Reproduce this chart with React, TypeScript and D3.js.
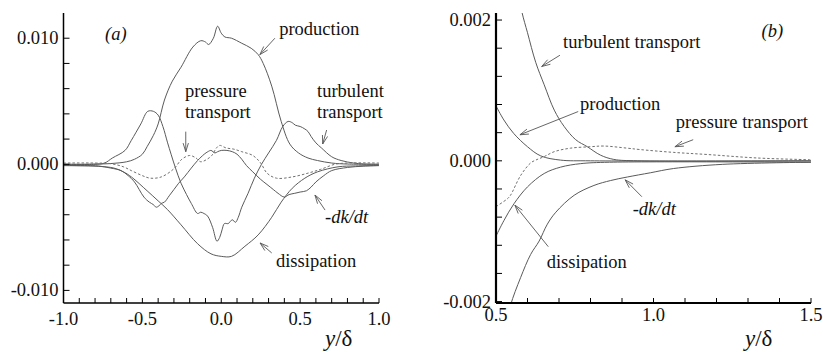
import React from "react";
import * as d3 from "d3";

type Pt = [number, number];

// ---- panel (a): budget terms vs y/delta ----
const productionA: Pt[] = [
  [-1.0, 0], [-0.8, 0.00002], [-0.7, 0.00006], [-0.6, 0.0002], [-0.55, 0.0004],
  [-0.5, 0.0008], [-0.47, 0.0014], [-0.43, 0.0023], [-0.4, 0.0032], [-0.36, 0.0051],
  [-0.31, 0.0066], [-0.255, 0.0077], [-0.18, 0.0093], [-0.13, 0.0098], [-0.1, 0.0097],
  [-0.08, 0.0095], [-0.05, 0.01], [-0.023, 0.01095], [0.0, 0.0104], [0.023, 0.0101],
  [0.065, 0.01], [0.13, 0.0096], [0.19, 0.0092], [0.234, 0.0087], [0.266, 0.008],
  [0.32, 0.0062], [0.38, 0.0034], [0.435, 0.0016], [0.49, 0.0009], [0.55, 0.0005],
  [0.61, 0.0003], [0.7, 0.0001], [0.8, 0.00002], [1.0, 0],
];
const turbulentA: Pt[] = [
  [-1, 0], [-0.8, 0], [-0.74, 0.0001], [-0.69, 0.0005], [-0.61, 0.0011], [-0.57, 0.0019],
  [-0.51, 0.0032], [-0.466, 0.0042], [-0.43, 0.0042], [-0.4, 0.0039], [-0.37, 0.003],
  [-0.34, 0.0017], [-0.318, 0.0008], [-0.29, -0.0003], [-0.255, -0.0015], [-0.22, -0.0024],
  [-0.19, -0.0031], [-0.15, -0.0039], [-0.13, -0.0038], [-0.11, -0.0039], [-0.087, -0.0041],
  [-0.055, -0.005], [-0.027, -0.0061], [-0.01, -0.0058], [0.005, -0.0052], [0.02, -0.0047],
  [0.044, -0.0047], [0.07, -0.0044], [0.09, -0.0046], [0.108, -0.0042], [0.13, -0.0034],
  [0.17, -0.0023], [0.21, -0.0011], [0.255, 0.0], [0.3, 0.0009], [0.35, 0.0019],
  [0.39, 0.003], [0.424, 0.0034], [0.45, 0.0033], [0.47, 0.0031], [0.5, 0.003],
  [0.53, 0.0028], [0.55, 0.0026], [0.57, 0.0022], [0.6, 0.0017], [0.635, 0.0013],
  [0.7, 0.0006], [0.76, 0.0003], [0.84, 0.0001], [0.9, 0.00003], [1.0, 0],
];
const dissipationA: Pt[] = [
  [-1, -0.0001], [-0.9, -0.00012], [-0.78, -0.00016], [-0.68, -0.0003], [-0.62, -0.0006],
  [-0.57, -0.001], [-0.47, -0.0021], [-0.4, -0.0029], [-0.34, -0.0036], [-0.255, -0.0048],
  [-0.15, -0.0063], [-0.065, -0.0071], [0.0, -0.0073], [0.065, -0.0073], [0.15, -0.0065],
  [0.234, -0.0056], [0.32, -0.0042], [0.38, -0.003], [0.45, -0.0019], [0.53, -0.0011],
  [0.61, -0.0006], [0.74, -0.0002], [0.85, -0.00013], [1.0, -0.0001],
];
const dkdtA: Pt[] = [
  [-1, -0.0001], [-0.85, -0.0001], [-0.78, -0.00013], [-0.7, -0.0003], [-0.635, -0.0005],
  [-0.59, -0.0009], [-0.55, -0.0014], [-0.49, -0.0026], [-0.456, -0.003], [-0.43, -0.0032],
  [-0.413, -0.0034], [-0.395, -0.0033], [-0.38, -0.0031], [-0.36, -0.003], [-0.33, -0.0025],
  [-0.3, -0.002], [-0.27, -0.0015], [-0.234, -0.001], [-0.19, -0.0003], [-0.15, 0.0003],
  [-0.108, 0.0008], [-0.085, 0.001], [-0.065, 0.0011], [-0.04, 0.0009], [-0.023, 0.001],
  [0.0, 0.0011], [0.036, 0.0011], [0.07, 0.001], [0.1, 0.0008], [0.13, 0.0004],
  [0.16, -0.0001], [0.2, -0.0006], [0.25, -0.0012], [0.29, -0.0016], [0.33, -0.002],
  [0.36, -0.0023], [0.4, -0.0026], [0.43, -0.0024], [0.466, -0.0023], [0.5, -0.0022],
  [0.54, -0.0021], [0.57, -0.0018], [0.6, -0.0014], [0.65, -0.0009], [0.7, -0.0005],
  [0.8, -0.00025], [0.9, -0.00015], [1.0, -0.0001],
];
const pressureA: Pt[] = [
  [-1.0, 0.0001], [-0.8, 0.0001], [-0.7, 0.00005], [-0.62, -0.0002], [-0.57, -0.0005],
  [-0.5, -0.0009], [-0.45, -0.0011], [-0.38, -0.001], [-0.3, -0.00035], [-0.25, 0.0004],
  [-0.2, 0.0007], [-0.16, 0.0005], [-0.13, 0.0002], [-0.09, 0.0004], [-0.06, 0.0007],
  [-0.03, 0.0013], [-0.01, 0.0015], [0.03, 0.0013], [0.08, 0.0012], [0.13, 0.001],
  [0.2, 0.0007], [0.25, 0.0001], [0.29, -0.0007], [0.35, -0.0011], [0.45, -0.001],
  [0.55, -0.0007], [0.63, -0.0004], [0.72, 0.0], [0.8, 0.0001], [1.0, 0.0001],
];

// ---- panel (b): outer edge ----
const turbulentB: Pt[] = [
  [0.57, 0.0024], [0.583, 0.0021], [0.6, 0.00182], [0.626, 0.0014], [0.653, 0.00108],
  [0.685, 0.00072], [0.716, 0.00049], [0.753, 0.0003], [0.79, 0.0002], [0.832, 0.00008],
  [0.874, 0.00002], [0.95, 0], [1.5, 0],
];
const productionB: Pt[] = [
  [0.5, 0.00078], [0.525, 0.00058], [0.556, 0.00039], [0.6, 0.0002], [0.642, 0.00007],
  [0.705, 0.00001], [0.8, 0], [1.5, 0],
];
const dissipationB: Pt[] = [
  [0.5, -0.00107], [0.525, -0.00085], [0.557, -0.00061], [0.6, -0.00037], [0.653, -0.00018],
  [0.705, -0.00009], [0.769, -0.00004], [0.86, -0.00002], [1.5, -0.00002],
];
const pressureB: Pt[] = [
  [0.5, -0.00065], [0.536, -0.00054], [0.546, -0.00049], [0.578, -0.00021], [0.61, -0.00003],
  [0.626, 0.00001], [0.653, 0.00006], [0.685, 0.00013], [0.737, 0.00018], [0.8, 0.0002],
  [0.842, 0.00021], [0.916, 0.00018], [0.957, 0.00016], [1.063, 0.00012], [1.17, 0.00009],
  [1.33, 0.00004], [1.5, 0.000015],
];
const dkdtB: Pt[] = [
  [0.54, -0.0022], [0.547, -0.00204], [0.578, -0.00166], [0.61, -0.00133], [0.637, -0.00114],
  [0.663, -0.0009], [0.69, -0.00073], [0.748, -0.00049], [0.811, -0.00035], [0.864, -0.00028],
  [0.917, -0.00023], [0.99, -0.00017], [1.063, -0.00011], [1.22, -0.00005], [1.5, -0.00002],
];

// annotations: label lines, label anchor, arrow tail, arrow tip (data units)
type Note = { lines: string[]; italic?: boolean; at: Pt; from?: Pt; to?: Pt };
const notesA: Note[] = [
  { lines: ["(a)"], italic: true, at: [-0.737, 0.00986] },
  { lines: ["production"], at: [0.367, 0.01025], from: [0.34, 0.01], to: [0.245, 0.0087] },
  { lines: ["pressure", "transport"], at: [-0.23, 0.0053], from: [-0.225, 0.00259], to: [-0.225, 0.001] },
  { lines: ["turbulent", "transport"], at: [0.607, 0.0053], from: [0.668, 0.00272], to: [0.643, 0.00161] },
  { lines: ["-dk/dt"], italic: true, at: [0.658, -0.00466], from: [0.658, -0.00363], to: [0.594, -0.00244] },
  { lines: ["dissipation"], at: [0.347, -0.00814], from: [0.32, -0.00703], to: [0.246, -0.00624] },
];
const notesB: Note[] = [
  { lines: ["(b)"], italic: true, at: [1.343, 0.00176] },
  { lines: ["turbulent transport"], at: [0.713, 0.0016], from: [0.703, 0.0015], to: [0.645, 0.00134] },
  { lines: ["production"], at: [0.767, 0.00072], from: [0.761, 0.0007], to: [0.576, 0.00037] },
  { lines: ["pressure transport"], at: [1.071, 0.00047], from: [1.126, 0.0003], to: [1.068, 0.0002] },
  { lines: ["-dk/dt"], italic: true, at: [0.934, -0.00077], from: [0.963, -0.00051], to: [0.91, -0.00027] },
  { lines: ["dissipation"], at: [0.661, -0.00152], from: [0.666, -0.00122], to: [0.56, -0.00063] },
];

const xTicksA = d3.range(-10, 11).map((d) => d / 10);
const xLabelsA = [-1, -0.5, 0, 0.5, 1];
const yTicksA = d3.range(-10, 11, 2).map((d) => d / 1000);
const yLabelsA = [-0.01, 0, 0.01];
const xTicksB = d3.range(5, 16).map((d) => d / 10);
const xLabelsB = [0.5, 1.0, 1.5];
const yTicksB = d3.range(-5, 6).map((d) => d * 0.0004);
const yLabelsB = [-0.002, 0, 0.002];

const FONT = "'Liberation Serif', 'DejaVu Serif', serif";
const CURVE = "#5a5a5a";

type PanelProps = {
  id: string;
  xDomain: [number, number];
  yDomain: [number, number];
  xRange: [number, number];
  yRange: [number, number];
  solid: Pt[][];
  dashed: Pt[];
  notes: Note[];
  xTicks: number[];
  xLabels: number[];
  yTicks: number[];
  yLabels: number[];
  xLabelDy: number;
  axisWidth: number;
  labelX: number;
};

const Arrow = ({ x1, y1, x2, y2 }: { x1: number; y1: number; x2: number; y2: number }) => {
  const a = Math.atan2(y1 - y2, x1 - x2);
  const len = 9;
  const spread = 0.3;
  const h1: Pt = [x2 + len * Math.cos(a + spread), y2 + len * Math.sin(a + spread)];
  const h2: Pt = [x2 + len * Math.cos(a - spread), y2 + len * Math.sin(a - spread)];
  return (
    <g stroke="#555" strokeWidth={0.9} fill="none">
      <line x1={x1} y1={y1} x2={x2} y2={y2} />
      <polyline points={`${h1[0]},${h1[1]} ${x2},${y2} ${h2[0]},${h2[1]}`} />
    </g>
  );
};

const hyphen = (s: string) => s.replace("\u2212", "-");

const Panel = (p: PanelProps) => {
  const x = d3.scaleLinear().domain(p.xDomain).range(p.xRange);
  const y = d3.scaleLinear().domain(p.yDomain).range(p.yRange);
  const line = d3
    .line<Pt>()
    .x((d) => x(d[0]))
    .y((d) => y(d[1]))
    .curve(d3.curveCatmullRom.alpha(0.5));
  const fmtX = d3.format(".1f");
  const fmtY = d3.format(".3f");
  const [x0, x1] = p.xRange;
  const [yb, yt] = p.yRange;
  const txt = { fontFamily: FONT, fontSize: "18.5px", fill: "#111" };
  return (
    <g>
      <defs>
        <clipPath id={p.id}>
          <rect x={x0} y={yt} width={x1 - x0} height={yb - yt} />
        </clipPath>
      </defs>
      <g clipPath={`url(#${p.id})`} fill="none">
        {p.solid.map((s, i) => (
          <path key={i} d={line(s) || ""} stroke={CURVE} strokeWidth={1} />
        ))}
        <path d={line(p.dashed) || ""} stroke="#707070" strokeWidth={1} strokeDasharray="2.5,2" />
      </g>
      {/* axes */}
      <g stroke="#000" strokeWidth={p.axisWidth} fill="none">
        <line x1={x0} y1={yt} x2={x0} y2={yb} />
        <line x1={x0} y1={yb} x2={x1} y2={yb} />
      </g>
      <g stroke="#000" strokeWidth={1}>
        {p.yTicks.map((t) => (
          <line key={t} x1={x0} x2={x0 + 6} y1={y(t)} y2={y(t)} />
        ))}
        {p.xTicks.map((t) => (
          <line key={t} x1={x(t)} x2={x(t)} y1={yb} y2={yb - 5} />
        ))}
      </g>
      {p.yLabels.map((t) => (
        <text key={t} style={txt} x={x0 - 5} y={y(t) + 6} textAnchor="end">
          {hyphen(fmtY(t))}
        </text>
      ))}
      {p.xLabels.map((t) => (
        <text key={t} style={txt} x={x(t)} y={yb + p.xLabelDy} textAnchor="middle">
          {hyphen(fmtX(t))}
        </text>
      ))}
      <text x={p.labelX} y={346} style={{ ...txt, fontSize: "23px" }}>
        <tspan style={{ fontStyle: "italic" }}>y</tspan>/δ
      </text>
      {p.notes.map((n, i) => (
        <g key={i}>
          {n.from && n.to && (
            <Arrow x1={x(n.from[0])} y1={y(n.from[1])} x2={x(n.to[0])} y2={y(n.to[1])} />
          )}
          <text
            style={{ ...txt, fontStyle: n.italic ? "italic" : "normal" }}
            x={x(n.at[0])}
            y={y(n.at[1])}
          >
            {n.lines.map((l, j) => (
              <tspan key={j} x={x(n.at[0])} dy={j === 0 ? 0 : 21}>
                {l}
              </tspan>
            ))}
          </text>
        </g>
      ))}
    </g>
  );
};

export default function App() {
  return (
    <svg
      width={823}
      height={352}
      style={{ position: "absolute", left: 0, top: 0, background: "#fff" }}
    >
      <Panel
        id="clipA"
        xDomain={[-1, 1]}
        yDomain={[-0.011, 0.012]}
        xRange={[63.5, 379]}
        yRange={[303, 13]}
        solid={[productionA, turbulentA, dissipationA, dkdtA]}
        dashed={pressureA}
        notes={notesA}
        xTicks={xTicksA}
        xLabels={xLabelsA}
        yTicks={yTicksA}
        yLabels={yLabelsA}
        xLabelDy={22}
        axisWidth={1.5}
        labelX={325}
      />
      <Panel
        id="clipB"
        xDomain={[0.5, 1.5]}
        yDomain={[-0.00202, 0.0021]}
        xRange={[496, 811]}
        yRange={[303, 13]}
        solid={[turbulentB, productionB, dissipationB, dkdtB]}
        dashed={pressureB}
        notes={notesB}
        xTicks={xTicksB}
        xLabels={xLabelsB}
        yTicks={yTicksB}
        yLabels={yLabelsB}
        xLabelDy={18}
        axisWidth={2.2}
        labelX={745}
      />
    </svg>
  );
}
